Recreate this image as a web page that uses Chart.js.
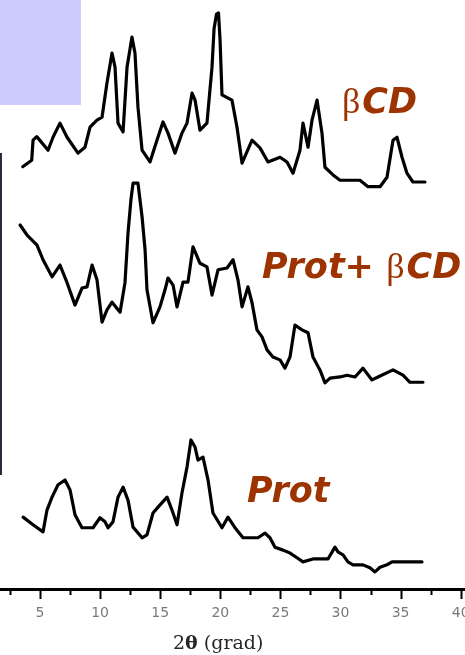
<!DOCTYPE html>
<html>
<head>
<meta charset="utf-8">
<script src="https://cdn.jsdelivr.net/npm/chart.js@4/dist/chart.umd.min.js"></script>
<style>
  html, body { margin: 0; padding: 0; background: #ffffff; }
  #wrap { position: relative; width: 465px; height: 655px; }
</style>
</head>
<body>
<div id="wrap"><canvas id="xrd"></canvas></div>
<script>
// Powder X-ray diffraction patterns, intensity in arbitrary units (stacked traces)
const bcdTheta = [3.56, 4.31, 4.42, 4.73, 5.67, 6.08, 6.66, 7.25, 8.16, 8.74, 9.16, 9.74, 10.16, 10.57, 10.99, 11.24, 11.49, 11.91, 12.24, 12.65, 12.90, 13.15, 13.49, 14.15, 14.73, 15.23, 15.65, 16.23, 16.81, 17.23, 17.65, 17.90, 18.31, 18.89, 19.31, 19.48, 19.68, 19.85, 19.98, 20.14, 20.97, 21.39, 21.81, 22.64, 23.30, 23.97, 24.97, 25.55, 26.05, 26.63, 26.88, 27.30, 27.63, 28.05, 28.46, 28.71, 29.38, 29.96, 31.62, 32.29, 33.29, 33.87, 34.37, 34.70, 35.12, 35.53, 36.03, 37.03];
const bcdInt = [71.7, 72.8, 76.2, 76.8, 74.5, 76.7, 79.1, 76.7, 74.0, 75.0, 78.4, 79.6, 80.1, 85.9, 91.0, 88.6, 79.1, 77.6, 88.6, 93.7, 91.0, 81.8, 74.5, 72.5, 76.2, 79.3, 77.4, 74.0, 77.4, 79.1, 84.2, 83.0, 77.9, 79.1, 88.6, 95.1, 97.6, 97.8, 93.2, 83.9, 83.0, 78.4, 72.3, 76.2, 74.9, 72.5, 73.3, 72.5, 70.6, 74.5, 79.1, 75.0, 79.6, 83.0, 77.4, 71.6, 70.3, 69.4, 69.4, 68.3, 68.3, 69.9, 76.2, 76.7, 73.3, 70.6, 69.1, 69.1];

const mixTheta = [3.34, 3.92, 4.75, 5.25, 6.00, 6.66, 7.25, 7.91, 8.49, 8.91, 9.33, 9.74, 10.16, 10.57, 10.99, 11.66, 12.07, 12.32, 12.57, 12.74, 12.99, 13.15, 13.49, 13.74, 13.90, 14.40, 14.98, 15.40, 15.65, 16.07, 16.40, 16.90, 17.31, 17.73, 18.31, 18.89, 19.31, 19.81, 20.56, 21.06, 21.47, 21.81, 22.30, 22.64, 23.05, 23.47, 23.89, 24.38, 24.97, 25.38, 25.80, 26.21, 26.80, 27.30, 27.71, 28.29, 28.71, 29.13, 29.96, 30.54, 31.21, 31.87, 32.62, 33.12, 34.37, 35.20, 35.78, 36.86];
const mixInt = [61.8, 60.1, 58.4, 55.9, 53.0, 55.0, 52.0, 48.2, 51.1, 51.3, 55.0, 52.5, 45.3, 47.4, 48.7, 47.0, 52.0, 60.4, 66.2, 68.9, 68.9, 68.9, 63.2, 57.6, 50.8, 45.2, 47.9, 50.8, 52.8, 51.6, 47.9, 52.1, 52.1, 58.1, 55.3, 54.7, 49.9, 54.2, 54.5, 55.9, 52.5, 47.9, 51.3, 48.6, 44.0, 42.8, 40.6, 39.4, 38.9, 37.5, 39.4, 44.8, 44.0, 43.5, 39.4, 37.2, 35.0, 35.8, 36.0, 36.3, 36.0, 37.5, 35.5, 36.0, 37.2, 36.3, 35.1, 35.1];

const protTheta = [3.59, 4.42, 5.25, 5.58, 6.00, 6.50, 7.08, 7.50, 7.91, 8.49, 9.41, 9.99, 10.41, 10.66, 11.07, 11.49, 11.91, 12.32, 12.74, 13.49, 13.90, 14.40, 14.82, 15.57, 15.98, 16.40, 16.81, 17.23, 17.56, 17.90, 18.14, 18.56, 18.98, 19.39, 20.14, 20.64, 21.22, 21.89, 23.14, 23.72, 24.13, 24.55, 25.22, 25.80, 26.38, 26.88, 27.71, 28.96, 29.54, 29.79, 30.21, 30.62, 31.04, 31.87, 32.45, 32.87, 33.29, 33.87, 34.28, 36.78];
const protInt = [12.2, 10.9, 9.7, 13.4, 15.6, 17.7, 18.5, 16.8, 12.6, 10.4, 10.4, 12.1, 11.4, 10.4, 11.4, 15.6, 17.3, 15.1, 10.5, 8.7, 9.2, 12.9, 13.9, 15.6, 13.4, 10.9, 16.3, 20.7, 25.3, 24.1, 21.9, 22.4, 18.5, 12.9, 10.4, 12.2, 10.4, 8.7, 8.7, 9.5, 8.7, 7.1, 6.6, 6.1, 5.3, 4.6, 5.1, 5.1, 7.1, 6.3, 5.8, 4.6, 4.1, 4.1, 3.6, 2.9, 3.7, 4.1, 4.6, 4.6];

const seriesNames = ['βCD', 'Prot+ βCD', 'Prot'];
const thetaTicks = [2.5, 5, 7.5, 10, 12.5, 15, 17.5, 20, 22.5, 25, 27.5, 30, 32.5, 35, 37.5, 40];
const axisTitle = ['2', 'θ', ' (grad)'];

const toPoints = (xs, ys) => xs.map((x, i) => ({ x: x, y: ys[i] }));

const traceStyle = {
  borderColor: '#000000',
  borderWidth: 3.2,
  pointRadius: 0,
  fill: false,
  tension: 0,
  borderJoinStyle: 'round',
  borderCapStyle: 'round'
};

const LABEL_RED = '#9c3300';
const SANS_BOLD = 'italic bold 35px "DejaVu Sans"';
const SERIF_BETA = '36px "Liberation Serif"';

// Text runs for each curve name: greek letter in a serif face, the rest bold italic
function runsFor(name) {
  const runs = [];
  for (const ch of name) {
    const font = ch === 'β' ? SERIF_BETA : SANS_BOLD;
    if (runs.length && runs[runs.length - 1].font === font) runs[runs.length - 1].text += ch;
    else runs.push({ text: ch, font: font });
  }
  return runs;
}

const decorations = {
  id: 'decorations',
  beforeDraw(chart) {
    const ctx = chart.ctx;
    ctx.save();
    ctx.fillStyle = '#ffffff';
    ctx.fillRect(0, 0, chart.width, chart.height);
    // slide panel in the corner and rule on the left edge
    ctx.fillStyle = '#ccccff';
    ctx.fillRect(0, 0, 81, 105);
    ctx.fillStyle = '#2b2b3b';
    ctx.fillRect(0, 153, 2, 322);
    ctx.restore();
  },
  afterDraw(chart, args, opts) {
    const ctx = chart.ctx;
    const xs = chart.scales.x;
    const ys = chart.scales.y;
    const axisY = xs.top;
    ctx.save();
    // tick marks: long at labelled positions, short between
    ctx.strokeStyle = '#000000';
    ctx.lineWidth = 2;
    thetaTicks.forEach(v => {
      const px = Math.round(xs.getPixelForValue(v)) + 0.5;
      const len = v % 5 === 0 ? 10 : 6;
      ctx.beginPath();
      ctx.moveTo(px, axisY);
      ctx.lineTo(px, axisY + len);
      ctx.stroke();
    });
    // curve names
    ctx.fillStyle = LABEL_RED;
    ctx.textBaseline = 'alphabetic';
    ctx.textAlign = 'left';
    opts.anchors.forEach((a, i) => {
      let px = xs.getPixelForValue(a[0]);
      const py = ys.getPixelForValue(a[1]);
      runsFor(seriesNames[i]).forEach(r => {
        ctx.font = r.font;
        ctx.fillText(r.text, px, py);
        px += ctx.measureText(r.text).width + (r.font === SERIF_BETA ? 2 : 0);
      });
    });
    // axis title, theta set in bold
    ctx.fillStyle = '#262626';
    let tx = 173;
    axisTitle.forEach(part => {
      ctx.font = (part === 'θ' ? 'bold ' : '') + '19px "DejaVu Serif"';
      ctx.fillText(part, tx, 649);
      tx += ctx.measureText(part).width;
    });
    ctx.restore();
  }
};

new Chart(document.getElementById('xrd'), {
  type: 'line',
  data: {
    datasets: [
      Object.assign({ label: seriesNames[0], data: toPoints(bcdTheta, bcdInt) }, traceStyle),
      Object.assign({ label: seriesNames[1], data: toPoints(mixTheta, mixInt) }, traceStyle),
      Object.assign({ label: seriesNames[2], data: toPoints(protTheta, protInt) }, traceStyle)
    ]
  },
  options: {
    responsive: true,
    maintainAspectRatio: false,
    animation: false,
    layout: { padding: 0 },
    plugins: {
      legend: { display: false },
      tooltip: { enabled: false },
      decorations: { anchors: [[30.12, 80.8], [23.47, 52.8], [22.22, 14.8]] }
    },
    scales: {
      x: {
        type: 'linear',
        position: 'bottom',
        min: 1.67,
        max: 40.36,
        afterBuildTicks(scale) {
          scale.ticks = thetaTicks.map(v => ({ value: v }));
        },
        afterFit(scale) {
          scale.height = 66;
          scale.paddingLeft = 0;
          scale.paddingRight = 0;
        },
        grid: { display: false, drawTicks: true, tickLength: 10 },
        border: { display: true, color: '#000000', width: 3 },
        ticks: {
          autoSkip: false,
          maxRotation: 0,
          padding: 6,
          color: '#7a7a7a',
          font: { family: 'DejaVu Sans', size: 14 },
          callback: v => (v % 5 === 0 ? String(v) : '')
        }
      },
      y: {
        type: 'linear',
        display: false,
        min: 0,
        max: 100
      }
    }
  },
  plugins: [decorations]
});
</script>
</body>
</html>
